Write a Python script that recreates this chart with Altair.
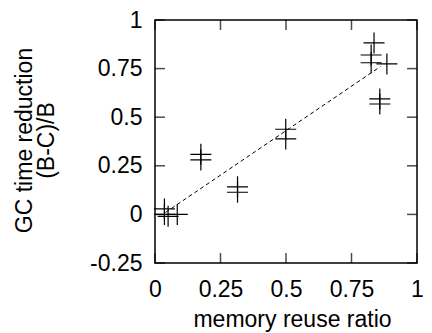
import altair as alt
import pandas as pd

# data points (memory reuse ratio, GC time reduction)
reuse = [0.036, 0.036, 0.05, 0.085, 0.175, 0.175, 0.315, 0.315,
         0.499, 0.499, 0.836, 0.825, 0.825, 0.885, 0.858, 0.858]
reduction = [0.028, 0.0, -0.01, 0.0, 0.309, 0.280, 0.142, 0.114,
             0.438, 0.388, 0.882, 0.820, 0.780, 0.774, 0.594, 0.568]

# fitted trend line end points
fit_x = [0.04, 0.86]
fit_y = [0.01, 0.76]

x_ticks = [0, 0.25, 0.5, 0.75, 1]
y_ticks = [-0.25, 0, 0.25, 0.5, 0.75, 1]

W, H = 262, 243
FONT = "Liberation Sans"
FS = 23

pts = pd.DataFrame({"x": reuse, "y": reduction})
fit = pd.DataFrame({"x": fit_x, "y": fit_y})
xt = pd.DataFrame({"x": x_ticks})
yt = pd.DataFrame({"y": y_ticks})

xscale = alt.Scale(domain=[0, 1], nice=False, zero=False)
yscale = alt.Scale(domain=[-0.25, 1], nice=False, zero=False)

xaxis = alt.Axis(values=x_ticks, labelExpr="'' + datum.value", title="memory reuse ratio",
                 labelPadding=15, labelFlush=False,
                 titleX=137, titleY=63, titleBaseline="alphabetic", titleAlign="center")
yaxis = alt.Axis(values=y_ticks, labelExpr="'' + datum.value",
                 title=["GC time reduction", "(B-C)/B"], labelPadding=13, labelFlush=False,
                 titleX=-124, titleY=120, titleBaseline="alphabetic", titleAlign="center",
                 titleAngle=270)

plus = "M-1,0L1,0M0,-1L0,1"

points = alt.Chart(pts).mark_point(shape=plus, size=441, filled=False, color="black",
                                   strokeWidth=1.2, opacity=1).encode(
    x=alt.X("x:Q", scale=xscale, axis=xaxis),
    y=alt.Y("y:Q", scale=yscale, axis=yaxis),
)

line = alt.Chart(fit).mark_line(color="black", strokeWidth=1, strokeDash=[4, 3]).encode(
    x=alt.X("x:Q", scale=xscale),
    y=alt.Y("y:Q", scale=yscale),
)

tick_len = 10
bottom = alt.Chart(xt).mark_tick(orient="vertical", size=tick_len, thickness=1.5, color="black").encode(
    x=alt.X("x:Q", scale=xscale), y=alt.value(H - tick_len / 2))
top = alt.Chart(xt).mark_tick(orient="vertical", size=tick_len, thickness=1.5, color="black").encode(
    x=alt.X("x:Q", scale=xscale), y=alt.value(tick_len / 2))
left = alt.Chart(yt).mark_tick(orient="horizontal", size=tick_len, thickness=1.5, color="black").encode(
    y=alt.Y("y:Q", scale=yscale), x=alt.value(tick_len / 2))
right = alt.Chart(yt).mark_tick(orient="horizontal", size=tick_len, thickness=1.5, color="black").encode(
    y=alt.Y("y:Q", scale=yscale), x=alt.value(W - tick_len / 2))

chart = alt.layer(line, points, bottom, top, left, right).properties(
    width=W, height=H,
    autosize=alt.AutoSizeParams(type="none"),
    padding={"left": 147, "top": 12, "right": 7, "bottom": 70},
).configure_view(stroke="black", strokeWidth=1.5).configure_axis(
    domain=False, ticks=False, grid=False,
    labelFont=FONT, labelFontSize=FS, labelColor="black",
    titleFont=FONT, titleFontSize=FS, titleFontWeight="normal", titleColor="black",
    titleLineHeight=22,
)

chart.save("out.html", embed_options={"renderer": "svg", "actions": False})
